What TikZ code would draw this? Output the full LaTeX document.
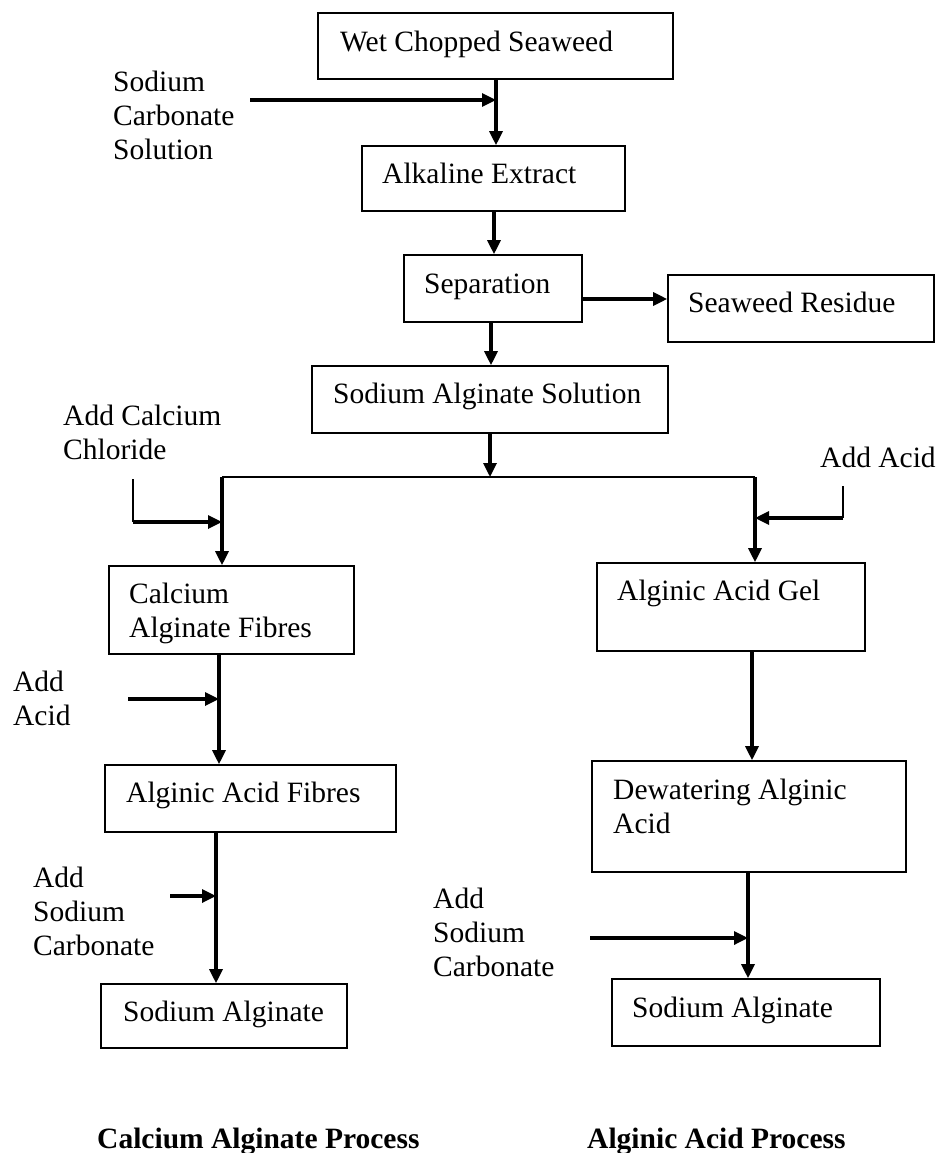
\documentclass[tikz,border=0pt]{standalone}
\usepackage{fontspec}
\setmainfont{Liberation Serif}
\usetikzlibrary{arrows.meta}

% rectangle from (left,top) to (right,bottom), y measured downward
\newcommand\procbox[5]{%
  \node[box, minimum width={#4-#2}, minimum height={#5-#3}]
    (#1) at ({(#2+#4)/2},{(#3+#5)/2}) {};}

\begin{document}
\begin{tikzpicture}[x=1pt,y=-1pt,
  box/.style={draw, line width=1.6pt, inner sep=0pt},
  % multi-line texts are placed by the baseline of their last line
  lbl/.style={anchor=base west, inner sep=0pt, align=left,
              font=\fontsize{29.5}{34}\selectfont},
  title/.style={lbl, font=\fontsize{29.5}{34}\selectfont\bfseries},
  flow/.style={line width=3.2pt, -{Triangle[length=14pt,width=13pt]}},
  feed/.style={line width=1.7pt},
  ]
\useasboundingbox (0,0) rectangle (937,1153);

% process boxes
\procbox{wet}{318}{13}{673}{79}
\procbox{alk}{362}{146}{625}{211}
\procbox{sep}{404}{255}{582}{322}
\procbox{res}{668}{275}{934}{342}
\procbox{sas}{312}{366}{668}{433}
\procbox{cal}{109}{566}{354}{654}
\procbox{gel}{597}{563}{865}{651}
\procbox{aaf}{105}{765}{396}{832}
\procbox{dew}{592}{761}{906}{872}
\procbox{sal}{101}{984}{347}{1048}
\procbox{sar}{612}{979}{880}{1046}

% box texts
\node[lbl] (twet) at (340,52) {Wet Chopped Seaweed};
\node[lbl] (talk) at (382,183) {Alkaline Extract};
\node[lbl] (tsep) at (424,293) {Separation};
\node[lbl] (tres) at (688,312) {Seaweed Residue};
\node[lbl] (tsas) at (333,403) {Sodium Alginate Solution};
\node[lbl] (tcal) at (129,637) {Calcium\\Alginate Fibres};
\node[lbl] (tgel) at (617,600) {Alginic Acid Gel};
\node[lbl] (taaf) at (126,802) {Alginic Acid Fibres};
\node[lbl] (tdew) at (613,833) {Dewatering Alginic\\Acid};
\node[lbl] (tsal) at (123,1021) {Sodium Alginate};
\node[lbl] (tsar) at (632,1017) {Sodium Alginate};

% reagent labels
\node[lbl] (ina) at (113,159) {Sodium\\Carbonate\\Solution};
\node[lbl] (inb) at (63,459) {Add Calcium\\Chloride};
\node[lbl] (inc) at (820,467) {Add Acid};
\node[lbl] (ind) at (13,725) {Add\\Acid};
\node[lbl] (ine) at (33,955) {Add\\Sodium\\Carbonate};
\node[lbl] (inf) at (433,976) {Add\\Sodium\\Carbonate};

% process titles
\node[title] (pa) at (97,1148) {Calcium Alginate Process};
\node[title] (pb) at (587,1148) {Alginic Acid Process};

% junction points
\coordinate (s1) at (250,100);
\coordinate (j1) at (496,100);
\coordinate (sp) at (490,477);
\coordinate (bl) at (222,477);
\coordinate (br) at (755,477);
\coordinate (c1) at (133,479);
\coordinate (c2) at (133,522);
\coordinate (j2) at (222,522);
\coordinate (a1) at (843,486);
\coordinate (a2) at (843,518);
\coordinate (j3) at (755,518);
\coordinate (d1) at (128,699);
\coordinate (j4) at (219,699);
\coordinate (e1) at (170,896);
\coordinate (j5) at (216,896);
\coordinate (f1) at (590,938);
\coordinate (j6) at (748,938);

% main line
\draw[flow] (wet.south -| j1) -- (alk.north -| j1);
\draw[flow] (s1) -- (j1);
\draw[flow] (alk.south -| 494,0) -- (sep.north -| 494,0);
\draw[flow] (sep.east |- 0,299) -- (res.west |- 0,299);
\draw[flow] (sep.south -| 491,0) -- (sas.north -| 491,0);
\draw[flow] (sas.south -| sp) -- (sp);

% split into the two processes
\draw[feed] (bl) -- (br);
\draw[flow] (bl) -- (cal.north -| bl);
\draw[flow] (br) -- (gel.north -| br);
\draw[feed] (c1) -- (c2);
\draw[flow] (c2) -- (j2);
\draw[feed] (a1) -- (a2);
\draw[flow] (a2) -- (j3);

% calcium alginate process
\draw[flow] (cal.south -| j4) -- (aaf.north -| j4);
\draw[flow] (d1) -- (j4);
\draw[flow] (aaf.south -| j5) -- (sal.north -| j5);
\draw[flow] (e1) -- (j5);

% alginic acid process
\draw[flow] (gel.south -| 752,0) -- (dew.north -| 752,0);
\draw[flow] (dew.south -| j6) -- (sar.north -| j6);
\draw[flow] (f1) -- (j6);
\end{tikzpicture}
\end{document}
